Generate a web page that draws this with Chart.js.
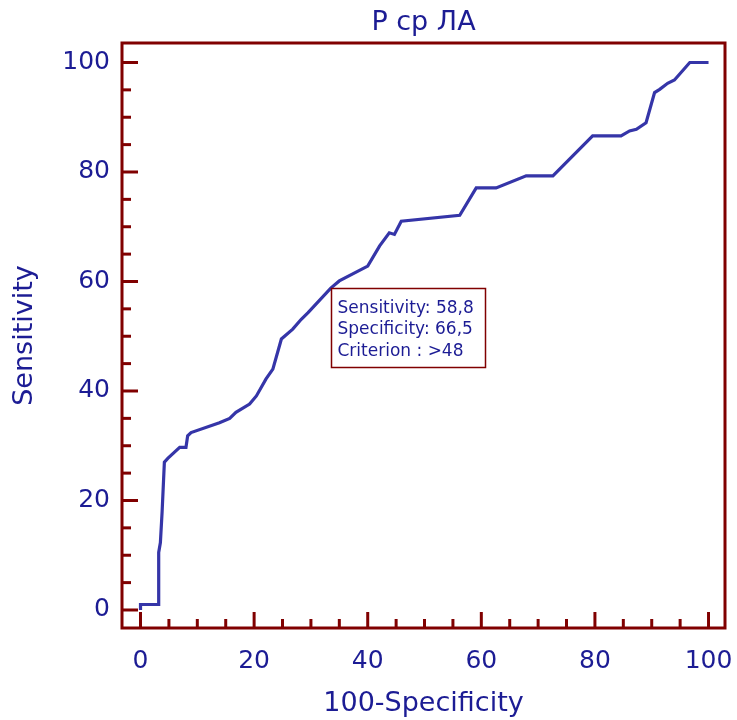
<!DOCTYPE html>
<html>
<head>
<meta charset="utf-8">
<script src="https://cdn.jsdelivr.net/npm/chart.js@4.4.1/dist/chart.umd.min.js"></script>
<style>
  html, body { margin: 0; padding: 0; background: #fff; }
</style>
</head>
<body>
<canvas id="rocChart" width="737" height="720"></canvas>
<script>
// ROC curve: Р ср ЛА
// x = 100-Specificity, y = Sensitivity
const fpr  = [0, 0, 3.1, 3.2, 3.5, 3.8, 4.2, 4.8, 6.9, 8.0, 8.3, 8.9, 13.9, 15.7, 16.8, 19.2, 20.4, 22.1, 23.3, 24.8, 26.8, 28.3, 29.5, 33.5, 35.0, 40.0, 42.1, 43.8, 44.7, 45.9, 56.2, 59.1, 62.6, 67.9, 72.6, 79.6, 84.6, 86.1, 87.3, 89.0, 90.5, 91.4, 92.8, 94.0, 96.7, 100];
const sens = [0, 1, 1, 10.5, 12.3, 17.9, 27.0, 27.7, 29.7, 29.7, 31.8, 32.4, 34.2, 35.0, 36.1, 37.6, 39.1, 42.2, 44.0, 49.5, 51.3, 53.1, 54.3, 58.8, 60.1, 62.8, 66.5, 68.9, 68.6, 71.0, 72.1, 77.1, 77.1, 79.3, 79.3, 86.6, 86.6, 87.5, 87.8, 89.0, 94.5, 95.1, 96.2, 96.8, 100, 100];

const tickMarks = [0, 5, 10, 15, 20, 25, 30, 35, 40, 45, 50, 55, 60, 65, 70, 75, 80, 85, 90, 95, 100];

// operating point shown in the box
const opSens = 58.8;
const opSpec = 66.5;
const boxLines = ['Sensitivity: 58,8', 'Specificity: 66,5', 'Criterion : >48'];

const FRAME = '#800000';
const TEXT = '#1c1c94';
const LINE = '#3535a8';
const FONT = "'DejaVu Sans', sans-serif";

// frame + inner tick marks like the original program draws them
const frameTicks = {
  id: 'frameTicks',
  beforeDatasetsDraw(chart) {
    const { ctx, chartArea: a, scales: { x, y } } = chart;
    ctx.save();
    ctx.strokeStyle = FRAME;
    ctx.lineWidth = 3;
    tickMarks.forEach((v) => {
      const len = v % 20 === 0 ? 16 : 9;
      const px = x.getPixelForValue(v);
      ctx.beginPath();
      ctx.moveTo(px, a.bottom);
      ctx.lineTo(px, a.bottom - len);
      ctx.stroke();
      const py = y.getPixelForValue(v);
      ctx.beginPath();
      ctx.moveTo(a.left, py);
      ctx.lineTo(a.left + len, py);
      ctx.stroke();
    });
    ctx.strokeRect(a.left, a.top, a.right - a.left, a.bottom - a.top);
    ctx.restore();
  }
};

// info box anchored at the operating point
const infoBox = {
  id: 'infoBox',
  afterDatasetsDraw(chart) {
    const { ctx, scales: { x, y } } = chart;
    const bx = Math.round(x.getPixelForValue(100 - opSpec)) + 0.5;
    const by = Math.round(y.getPixelForValue(opSens)) + 0.5;
    const w = 154, h = 79;
    ctx.save();
    ctx.fillStyle = '#fff';
    ctx.fillRect(bx, by, w, h);
    ctx.strokeStyle = FRAME;
    ctx.lineWidth = 1.5;
    ctx.strokeRect(bx, by, w, h);
    ctx.fillStyle = TEXT;
    ctx.font = '17px ' + FONT;
    ctx.textBaseline = 'middle';
    ctx.textAlign = 'left';
    boxLines.forEach((t, i) => {
      ctx.fillText(t, bx + 6, by + 20 + i * 21.5);
    });
    ctx.restore();
  }
};

const points = fpr.map((v, i) => ({ x: v, y: sens[i] }));

new Chart(document.getElementById('rocChart'), {
  type: 'scatter',
  data: {
    datasets: [{
      data: points,
      showLine: true,
      borderColor: LINE,
      borderWidth: 3.2,
      pointRadius: 0,
      tension: 0,
      fill: false
    }]
  },
  options: {
    responsive: false,
    animation: false,
    devicePixelRatio: 1,
    layout: { padding: { left: 0, right: 12, top: 0, bottom: 0 } },
    plugins: {
      legend: { display: false },
      tooltip: { enabled: false },
      title: {
        display: true,
        text: 'Р ср ЛА',
        color: TEXT,
        fullSize: false,
        font: { family: FONT, size: 27, weight: 'normal' },
        padding: { top: 7, bottom: 3.6 }
      }
    },
    scales: {
      x: {
        type: 'linear',
        min: -3.26,
        max: 102.9,
        afterFit: (s) => { s.height = 92; s.paddingLeft = 0; s.paddingRight = 0; },
        grid: { display: false, drawTicks: false },
        border: { display: false },
        ticks: {
          stepSize: 20,
          includeBounds: false,
          color: TEXT,
          padding: 18,
          font: { family: FONT, size: 25 }
        },
        title: {
          display: true,
          text: '100-Specificity',
          color: TEXT,
          font: { family: FONT, size: 27 },
          padding: { top: 0, bottom: 0 }
        }
      },
      y: {
        type: 'linear',
        min: -3.29,
        max: 103.56,
        afterFit: (s) => { s.width = 122; s.paddingTop = 0; s.paddingBottom = 0; },
        grid: { display: false, drawTicks: false },
        border: { display: false },
        ticks: {
          stepSize: 20,
          includeBounds: false,
          color: TEXT,
          padding: 12,
          font: { family: FONT, size: 25 }
        },
        title: {
          display: true,
          text: 'Sensitivity',
          color: TEXT,
          font: { family: FONT, size: 27 },
          padding: { top: 9, bottom: 0 }
        }
      }
    }
  },
  plugins: [frameTicks, infoBox]
});
</script>
</body>
</html>
